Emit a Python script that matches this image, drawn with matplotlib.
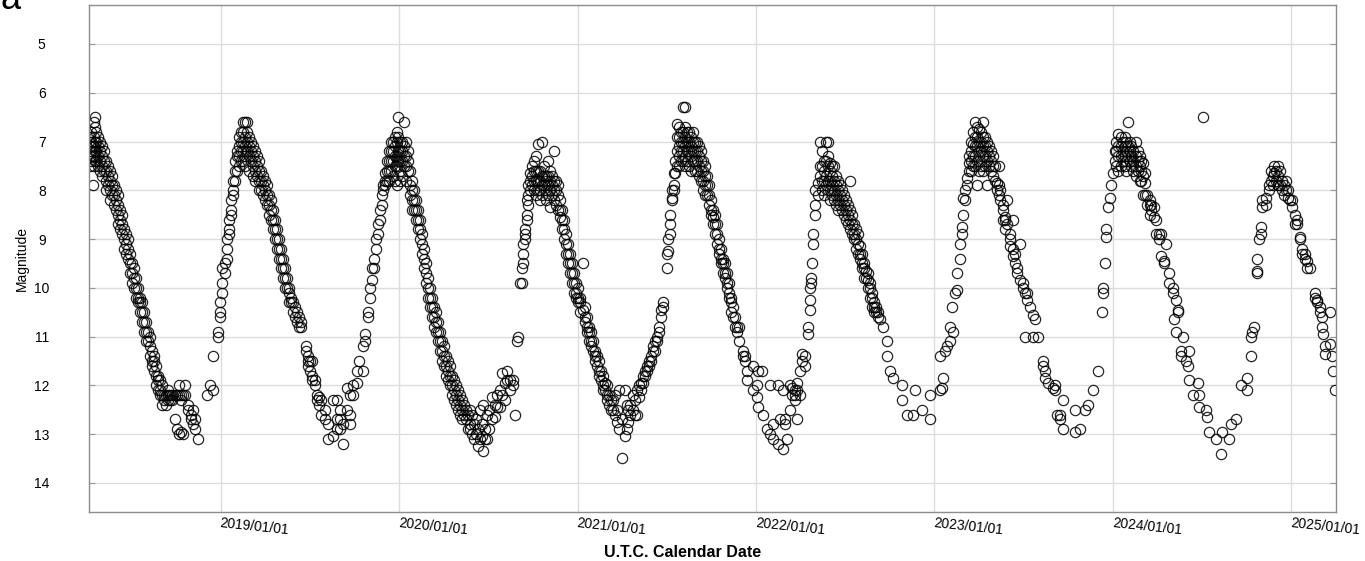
#!/usr/bin/env python3
"""
Light curve of a long-period variable: visual magnitude against date.
Observations are kept as (decimal year, [magnitudes on that date]) per cycle.
"""

import matplotlib
matplotlib.use("Agg")
import matplotlib.pyplot as plt

plt.rcParams['font.family'] = ['Liberation Sans', 'DejaVu Sans']

# ---- observations, one list per light cycle -------------------------------
cycle_2018 = [
    (2018.268, [6.9, 7.1, 7.3, 7.5]), (2018.276, [6.8, 7.0, 7.2, 7.4]),
    (2018.282, [7.1, 7.3, 7.9]), (2018.290, [6.6, 6.9, 7.1, 7.3, 7.5]),
    (2018.296, [6.5, 6.7, 7.0, 7.2, 7.4]), (2018.304, [6.8, 7.0, 7.2, 7.4]),
    (2018.313, [6.9, 7.1, 7.3, 7.5]), (2018.324, [7.0, 7.2, 7.4, 7.6]),
    (2018.335, [7.1, 7.3, 7.5, 7.7]), (2018.346, [7.2, 7.4, 7.6]),
    (2018.357, [7.4, 7.6, 7.8, 8.0]), (2018.368, [7.5, 7.7, 7.9]),
    (2018.380, [7.6, 7.8, 8.0, 8.2]), (2018.391, [7.7, 7.9, 8.1]),
    (2018.402, [7.9, 8.1, 8.3]), (2018.413, [8.0, 8.2, 8.4]),
    (2018.425, [8.1, 8.3, 8.5, 8.7]), (2018.436, [8.4, 8.6, 8.8]),
    (2018.447, [8.5, 8.7, 8.9]), (2018.458, [8.8, 9.0, 9.2]),
    (2018.470, [8.9, 9.1, 9.3]), (2018.481, [9.0, 9.2, 9.4]),
    (2018.492, [9.3, 9.5, 9.7]), (2018.503, [9.5, 9.7, 9.9]),
    (2018.514, [9.6, 9.8, 10.0]), (2018.525, [9.8, 10.0, 10.2]),
    (2018.537, [10.0, 10.2, 10.3]), (2018.548, [10.2, 10.3, 10.5]),
    (2018.559, [10.3, 10.5, 10.7]), (2018.570, [10.5, 10.7, 10.9]),
    (2018.582, [10.7, 10.9, 11.1]), (2018.593, [10.9, 11.1]),
    (2018.604, [11.0, 11.2, 11.4]), (2018.615, [11.3, 11.5, 11.6]),
    (2018.626, [11.4, 11.5, 11.7]), (2018.638, [11.6, 11.8, 12.0]),
    (2018.649, [11.8, 11.9, 12.1]), (2018.660, [11.9, 12.1, 12.2]),
    (2018.671, [12.0, 12.2, 12.4]), (2018.682, [12.2, 12.3]),
    (2018.693, [12.2, 12.4]), (2018.705, [12.1, 12.2, 12.3]),
    (2018.716, [12.2, 12.3]), (2018.727, [12.2, 12.3]),
    (2018.744, [12.2, 12.7]), (2018.755, [12.2, 12.9]),
    (2018.766, [12.0, 12.2, 13.0]), (2018.778, [12.2, 12.3, 12.95]),
    (2018.789, [12.2, 13.0]), (2018.800, [12.0, 12.2]),
    (2018.817, [12.4, 12.5]), (2018.834, [12.6, 12.7]),
    (2018.845, [12.5, 12.8]), (2018.856, [12.7, 12.9]),
    (2018.873, [13.1]),
]

cycle_2019 = [
    (2018.923, [12.2]), (2018.940, [12.0]), (2018.957, [12.1, 11.4]),
    (2018.985, [10.9, 11.0]), (2018.996, [10.5, 10.6, 10.3]),
    (2019.007, [9.9, 10.1, 9.6]), (2019.024, [9.5, 9.7]),
    (2019.035, [9.0, 9.2, 9.4]), (2019.046, [8.6, 8.8, 8.9]),
    (2019.058, [8.2, 8.4, 8.5]), (2019.069, [7.8, 8.0, 8.1]),
    (2019.080, [7.4, 7.6, 7.8]), (2019.091, [7.2, 7.3, 7.6]),
    (2019.102, [6.9, 7.1, 7.3, 7.5]), (2019.113, [6.8, 7.0, 7.2, 7.4]),
    (2019.125, [6.6, 6.8, 7.0, 7.2, 7.4]), (2019.136, [6.6, 6.9, 7.1, 7.3, 7.5]),
    (2019.147, [6.6, 6.8, 7.0, 7.2]), (2019.158, [6.9, 7.1, 7.3, 7.6]),
    (2019.170, [7.0, 7.2, 7.4]), (2019.181, [7.1, 7.3, 7.5, 7.7]),
    (2019.192, [7.2, 7.4, 7.6, 7.8]), (2019.203, [7.3, 7.5, 7.7]),
    (2019.214, [7.4, 7.6, 7.8, 8.0]), (2019.226, [7.6, 7.8, 8.0]),
    (2019.237, [7.7, 7.9, 8.1]), (2019.248, [7.8, 8.0, 8.2]),
    (2019.259, [7.9, 8.1, 8.3]), (2019.270, [8.1, 8.3, 8.5]),
    (2019.282, [8.2, 8.4, 8.6]), (2019.293, [8.4, 8.6, 8.8]),
    (2019.304, [8.6, 8.8, 9.0]), (2019.315, [8.8, 9.0, 9.2]),
    (2019.326, [9.0, 9.2, 9.4]), (2019.338, [9.2, 9.4, 9.6]),
    (2019.349, [9.4, 9.6, 9.8]), (2019.360, [9.6, 9.8, 10.0]),
    (2019.371, [9.8, 10.0]), (2019.382, [10.0, 10.1, 10.3]),
    (2019.394, [10.2, 10.3]), (2019.405, [10.3, 10.5]),
    (2019.416, [10.4, 10.6]), (2019.427, [10.5, 10.7]),
    (2019.438, [10.6, 10.8]), (2019.450, [10.7, 10.8]),
    (2019.478, [11.2, 11.3]), (2019.489, [11.5, 11.4, 11.6]),
    (2019.500, [11.5, 11.7]), (2019.511, [11.5, 11.9, 11.8]),
    (2019.528, [12.0, 11.9]), (2019.539, [12.2, 12.3]),
    (2019.550, [12.25, 12.4]), (2019.562, [12.3, 12.6]),
    (2019.584, [12.5, 12.7]), (2019.601, [13.1, 12.8]),
    (2019.629, [13.05, 12.3]), (2019.651, [12.3, 12.7, 12.9]),
    (2019.668, [12.9, 12.7, 12.5]), (2019.685, [13.2, 12.8]),
    (2019.708, [12.05, 12.5]), (2019.724, [12.6, 12.2, 12.8]),
    (2019.741, [12.2, 12.0]), (2019.764, [11.95, 11.7]),
    (2019.775, [11.5]), (2019.797, [11.7, 11.2]),
    (2019.808, [10.95, 11.1]), (2019.825, [10.5, 10.6]),
    (2019.836, [10.2, 10.0]), (2019.848, [9.85, 9.6]),
]

cycle_2020 = [
    (2019.859, [9.4, 9.6]), (2019.870, [9.0, 9.2]), (2019.881, [8.9, 8.7]),
    (2019.892, [8.6, 8.4]), (2019.904, [8.1, 8.3]), (2019.909, [7.9, 8.0]),
    (2019.920, [7.65, 7.8, 7.9]), (2019.931, [7.4, 7.6, 7.8]),
    (2019.943, [7.2, 7.4, 7.6, 7.8]), (2019.954, [7.0, 7.2, 7.4, 7.6]),
    (2019.965, [7.0, 7.2, 7.4, 7.7]), (2019.976, [6.9, 7.1, 7.3, 7.5, 7.8]),
    (2019.988, [6.8, 7.0, 7.3, 7.5, 7.9]), (2019.993, [6.5, 6.9, 7.2, 7.4]),
    (2020.004, [7.0, 7.2, 7.4, 7.6, 7.8]), (2020.016, [7.0, 7.2, 7.4, 7.7]),
    (2020.027, [6.6, 7.1, 7.3, 7.5]), (2020.038, [7.0, 7.3, 7.5, 7.8]),
    (2020.049, [7.2, 7.4, 7.6]), (2020.060, [7.6, 7.9, 8.1]),
    (2020.072, [7.8, 8.0, 8.2, 8.4]), (2020.083, [8.0, 8.2, 8.4]),
    (2020.094, [8.2, 8.4, 8.6]), (2020.105, [8.4, 8.6, 8.8]),
    (2020.116, [8.6, 8.8, 9.0]), (2020.128, [8.9, 9.1, 9.3]),
    (2020.139, [9.2, 9.4, 9.6]), (2020.150, [9.5, 9.7, 9.9]),
    (2020.161, [9.8, 10.0, 10.2]), (2020.172, [10.0, 10.2, 10.4]),
    (2020.184, [10.2, 10.4, 10.6]), (2020.195, [10.4, 10.6, 10.8]),
    (2020.206, [10.5, 10.7, 10.9]), (2020.217, [10.7, 10.9, 11.1]),
    (2020.228, [10.9, 11.1, 11.3]), (2020.240, [11.1, 11.3, 11.5]),
    (2020.251, [11.2, 11.4, 11.6]), (2020.262, [11.4, 11.6, 11.8]),
    (2020.273, [11.5, 11.7, 11.9]), (2020.284, [11.6, 11.8, 12.0]),
    (2020.296, [11.8, 12.0, 12.2]), (2020.307, [11.9, 12.1, 12.3]),
    (2020.318, [12.0, 12.2, 12.4]), (2020.329, [12.1, 12.3, 12.5]),
    (2020.340, [12.2, 12.4, 12.6]), (2020.352, [12.3, 12.5, 12.7]),
    (2020.363, [12.4, 12.6]), (2020.374, [12.5, 12.7]),
    (2020.385, [12.6, 12.9]), (2020.396, [12.8, 12.9, 12.5]),
    (2020.408, [13.0, 12.6]), (2020.419, [13.1, 12.8]),
    (2020.430, [13.0, 12.7]), (2020.441, [13.25, 12.9]),
    (2020.452, [13.1, 12.5]), (2020.464, [13.05, 12.8]),
    (2020.469, [13.35, 12.4]), (2020.480, [13.1, 12.9]),
    (2020.492, [13.1, 12.6]), (2020.503, [12.9, 12.5]),
    (2020.520, [12.7, 12.25]), (2020.536, [12.65, 12.4]),
    (2020.548, [12.2, 12.45]), (2020.565, [12.45, 12.1]),
    (2020.576, [11.75, 12.2]), (2020.593, [11.95, 12.3]),
    (2020.604, [11.9, 11.7]), (2020.621, [11.9, 12.1]),
    (2020.637, [11.9, 12.0]), (2020.649, [12.6]),
    (2020.660, [11.1]), (2020.666, [11.0]),
]

cycle_2020b = [
    (2020.677, [9.9]), (2020.688, [9.6, 9.9]), (2020.694, [9.3, 9.5, 9.1]),
    (2020.705, [8.8, 8.9, 9.0]), (2020.716, [8.5, 8.6, 8.2]),
    (2020.722, [8.1, 8.3, 7.9]), (2020.733, [7.65, 7.8, 8.0]),
    (2020.744, [7.5, 7.7, 7.9]), (2020.755, [7.4, 7.6, 7.8, 8.0]),
    (2020.766, [7.3, 7.6, 7.8, 8.1]), (2020.778, [7.05, 7.6, 7.8, 8.0]),
    (2020.789, [7.6, 7.8, 8.0, 8.2]), (2020.800, [7.0, 7.7, 7.9, 8.1]),
    (2020.811, [7.5, 7.7, 7.9]), (2020.822, [7.7, 7.8, 8.0, 8.2]),
    (2020.834, [7.4, 7.7, 7.9, 8.1]), (2020.845, [7.6, 7.8, 8.0, 8.35]),
    (2020.856, [7.7, 7.9, 8.1]), (2020.867, [7.2, 7.8, 8.0, 8.2]),
    (2020.878, [7.8, 8.0, 8.3]), (2020.890, [7.9, 8.1, 8.4]),
    (2020.901, [8.2, 8.4, 8.55]), (2020.912, [8.4, 8.6, 8.8]),
    (2020.923, [8.6, 8.8, 9.0]), (2020.935, [8.9, 9.1, 9.3]),
    (2020.946, [9.1, 9.3, 9.5]), (2020.957, [9.3, 9.5, 9.7]),
    (2020.968, [9.5, 9.7, 9.9]), (2020.979, [9.7, 9.9, 10.1]),
    (2020.990, [9.9, 10.1, 10.2]), (2021.002, [10.0, 10.2, 10.3]),
    (2021.013, [10.2, 10.3, 10.5]), (2021.030, [10.45, 9.5]),
    (2021.041, [10.4, 10.6, 10.7]), (2021.052, [10.6, 10.8, 10.9]),
    (2021.063, [10.8, 10.9, 11.1]), (2021.075, [10.9, 11.1, 11.2]),
    (2021.086, [11.1, 11.3]), (2021.097, [11.3, 11.4, 11.5]),
    (2021.108, [11.4, 11.6]), (2021.119, [11.5, 11.7, 11.8]),
    (2021.130, [11.7, 11.9]), (2021.142, [11.8, 12.0, 12.1]),
    (2021.153, [11.95, 12.1]), (2021.164, [12.0, 12.2, 12.3]),
    (2021.175, [12.2, 12.4]), (2021.187, [12.3, 12.5]),
    (2021.198, [12.5, 12.3]), (2021.209, [12.6, 12.2]),
    (2021.220, [12.75, 12.5]), (2021.231, [12.9, 12.1]),
    (2021.248, [13.5, 12.7]), (2021.265, [13.05, 12.1]),
    (2021.276, [12.9, 12.4]), (2021.282, [12.75, 12.5]),
    (2021.293, [12.4, 12.6]), (2021.310, [12.5, 12.2]),
    (2021.321, [12.6, 12.3]), (2021.332, [12.6, 12.1]),
    (2021.343, [12.25, 12.0]), (2021.354, [12.1, 11.95]),
    (2021.366, [11.95, 11.8]), (2021.377, [11.8, 11.7]),
    (2021.388, [11.7, 11.6]), (2021.399, [11.5, 11.6]),
    (2021.410, [11.4, 11.5]), (2021.422, [11.3, 11.2]),
    (2021.433, [11.1, 11.3]), (2021.444, [11.0, 11.1]),
    (2021.455, [10.8, 10.9]), (2021.466, [10.6, 10.45]),
    (2021.478, [10.3, 10.4]),
]

cycle_2021 = [
    (2021.500, [9.6, 9.3]), (2021.506, [9.0, 9.25]), (2021.517, [8.9, 8.5, 8.7]),
    (2021.528, [8.2, 8.0, 8.15]), (2021.539, [7.65, 7.9, 8.0]),
    (2021.545, [7.4, 7.65]), (2021.556, [6.65, 6.9, 7.2, 7.5]),
    (2021.567, [6.7, 6.9, 7.1, 7.3, 7.5]), (2021.578, [6.8, 7.0, 7.2, 7.4]),
    (2021.590, [6.3, 6.8, 7.0, 7.2, 7.4]), (2021.601, [6.3, 6.7, 6.9, 7.1, 7.3, 7.5]),
    (2021.612, [6.8, 7.0, 7.2, 7.4]), (2021.623, [6.8, 7.0, 7.2, 7.5]),
    (2021.635, [6.9, 7.1, 7.3, 7.6]), (2021.646, [6.8, 7.0, 7.2, 7.4]),
    (2021.657, [7.0, 7.2, 7.4, 7.6]), (2021.668, [7.0, 7.2, 7.4, 7.6]),
    (2021.679, [7.1, 7.3, 7.5, 7.7]), (2021.690, [7.2, 7.4, 7.6, 7.8]),
    (2021.702, [7.4, 7.6, 7.8, 8.0]), (2021.713, [7.5, 7.7, 7.9, 8.1]),
    (2021.724, [7.7, 7.9, 8.1]), (2021.735, [7.9, 8.1, 8.3]),
    (2021.746, [8.2, 8.4, 8.5]), (2021.758, [8.4, 8.55, 8.7]),
    (2021.769, [8.5, 8.7, 8.9]), (2021.780, [8.7, 8.9, 9.1]),
    (2021.791, [9.0, 9.2, 9.3]), (2021.803, [9.2, 9.4, 9.5]),
    (2021.814, [9.4, 9.5, 9.7]), (2021.825, [9.5, 9.7, 9.8]),
    (2021.836, [9.7, 9.9, 10.0]), (2021.847, [9.9, 10.1, 10.2]),
    (2021.858, [10.2, 10.3, 10.5]), (2021.870, [10.4, 10.6]),
    (2021.881, [10.6, 10.8]), (2021.892, [10.9, 10.8]),
    (2021.903, [11.1, 10.8]), (2021.926, [11.3, 11.4]),
    (2021.937, [11.4, 11.5]), (2021.948, [11.7, 11.9]),
    (2021.982, [11.6, 12.1]), (2022.004, [12.25, 12.0]),
    (2022.010, [12.45, 11.7]), (2022.032, [11.7]),
    (2022.038, [12.6]), (2022.060, [12.9]),
    (2022.077, [13.0, 12.0]), (2022.094, [13.1, 12.8]),
    (2022.122, [13.2, 12.0]), (2022.133, [12.7]),
    (2022.150, [13.3, 12.1]), (2022.161, [12.7, 12.8]),
    (2022.172, [13.1]), (2022.189, [12.5, 12.0]),
    (2022.200, [12.05, 12.2]), (2022.217, [12.1, 12.2, 12.3]),
    (2022.228, [12.1, 12.7, 11.95]), (2022.245, [11.7, 12.2]),
    (2022.256, [11.5, 11.35]), (2022.273, [11.4, 11.6]),
    (2022.290, [10.95, 10.8]), (2022.301, [10.45, 10.25, 10.0]),
    (2022.307, [9.9, 9.8]), (2022.312, [9.5]),
    (2022.318, [9.1, 8.9]), (2022.329, [8.5, 8.3, 8.0]),
    (2022.346, [7.85, 8.1]), (2022.357, [7.7, 7.5, 7.0]),
]

cycle_2022 = [
    (2022.368, [7.2, 7.5, 7.8, 8.0]), (2022.380, [7.4, 7.6, 7.8, 8.1]),
    (2022.391, [7.0, 7.4, 7.7, 7.9]), (2022.402, [7.0, 7.3, 7.5, 7.8, 8.0]),
    (2022.413, [7.45, 7.6, 7.8, 8.0, 8.2]), (2022.424, [7.5, 7.7, 7.9, 8.1]),
    (2022.436, [7.5, 7.8, 8.0, 8.2]), (2022.447, [7.7, 7.9, 8.1, 8.3]),
    (2022.458, [7.8, 8.0, 8.2, 8.4]), (2022.469, [7.9, 8.1, 8.3]),
    (2022.480, [8.0, 8.2, 8.4]), (2022.492, [8.1, 8.3, 8.5]),
    (2022.503, [8.2, 8.4, 8.6]), (2022.514, [8.3, 8.5, 8.7]),
    (2022.525, [7.8, 8.4, 8.6, 8.8]), (2022.536, [8.5, 8.7, 8.9]),
    (2022.548, [8.7, 8.9, 9.0]), (2022.559, [8.8, 9.0, 9.2]),
    (2022.570, [8.9, 9.1, 9.3]), (2022.581, [9.15, 9.3, 9.4]),
    (2022.592, [9.3, 9.5, 9.6]), (2022.604, [9.5, 9.6, 9.8]),
    (2022.615, [9.65, 9.8]), (2022.626, [9.7, 9.85, 10.0]),
    (2022.637, [9.9, 10.0, 10.2]), (2022.648, [10.1, 10.2, 10.4]),
    (2022.660, [10.3, 10.4, 10.5]), (2022.671, [10.5, 10.4]),
    (2022.682, [10.5, 10.6]), (2022.693, [10.65]),
    (2022.710, [10.8]), (2022.732, [11.1, 11.4]),
    (2022.749, [11.7]), (2022.766, [11.85]),
    (2022.816, [12.0, 12.3]), (2022.844, [12.6]),
    (2022.878, [12.6]), (2022.889, [12.1]),
    (2022.928, [12.5]), (2022.973, [12.7, 12.2]),
]

cycle_2023 = [
    (2023.029, [11.4, 12.1]), (2023.040, [12.05]), (2023.046, [11.85]),
    (2023.057, [11.3]), (2023.068, [11.2]), (2023.085, [11.1, 10.8]),
    (2023.096, [10.4]), (2023.102, [10.9]), (2023.113, [10.1]),
    (2023.124, [9.7, 10.05]), (2023.141, [9.4, 9.1]),
    (2023.152, [8.9, 8.75]), (2023.158, [8.5, 8.15]),
    (2023.169, [8.0, 8.2]), (2023.180, [7.75, 7.9]),
    (2023.191, [7.45, 7.6, 7.3]), (2023.203, [7.0, 7.2, 7.4, 7.6]),
    (2023.214, [6.8, 7.05, 7.3, 7.5]), (2023.225, [6.6, 6.9, 7.1, 7.3, 7.5]),
    (2023.236, [6.7, 6.9, 7.1, 7.4, 7.9]), (2023.248, [6.75, 7.0, 7.2, 7.4, 7.6]),
    (2023.259, [6.8, 7.0, 7.2, 7.5]), (2023.270, [6.6, 6.9, 7.1, 7.3, 7.6]),
    (2023.281, [6.9, 7.1, 7.3, 7.5]), (2023.292, [7.0, 7.2, 7.4, 7.9]),
    (2023.303, [7.1, 7.3, 7.5]), (2023.315, [7.2, 7.4, 7.6]),
    (2023.326, [7.3, 7.5, 7.7]), (2023.337, [7.5, 7.8]),
    (2023.348, [7.85, 8.0]), (2023.359, [7.5, 7.9, 8.1]),
    (2023.365, [8.2, 8.0]), (2023.382, [8.4, 8.3, 8.6]),
    (2023.393, [8.55, 8.6, 8.8]), (2023.404, [8.2, 8.7]),
    (2023.421, [9.15, 8.9, 9.0]), (2023.438, [9.35, 8.6, 9.2]),
    (2023.449, [9.5, 9.3]), (2023.460, [9.7, 9.6]),
    (2023.477, [9.85, 9.1]), (2023.494, [10.0, 9.9]),
    (2023.505, [11.0, 10.1]), (2023.516, [10.1, 10.25]),
    (2023.533, [10.4]), (2023.550, [10.55, 11.0]),
    (2023.561, [10.65]), (2023.578, [11.0]),
    (2023.606, [11.5, 11.6]), (2023.617, [11.85, 11.7]),
    (2023.634, [11.95]), (2023.662, [12.05]),
    (2023.673, [12.1, 12.0]), (2023.684, [12.6]),
    (2023.701, [12.7, 12.6]), (2023.718, [12.3, 12.9]),
    (2023.785, [12.95, 12.5]), (2023.813, [12.9]),
    (2023.841, [12.5]), (2023.858, [12.4]),
    (2023.886, [12.1]), (2023.914, [11.7]),
]

cycle_2024 = [
    (2023.936, [10.5]), (2023.942, [10.1, 10.0]), (2023.953, [9.5]),
    (2023.964, [8.95, 8.8]), (2023.970, [8.35]), (2023.981, [8.15]),
    (2023.992, [7.9]), (2023.998, [7.65]), (2024.009, [7.2, 7.4]),
    (2024.020, [7.0, 7.2, 7.5]), (2024.031, [6.85, 7.1, 7.3, 7.6]),
    (2024.043, [6.9, 7.1, 7.3, 7.5]), (2024.054, [7.0, 7.2, 7.4]),
    (2024.065, [6.9, 7.1, 7.3, 7.5]), (2024.076, [7.0, 7.2, 7.4, 7.6]),
    (2024.082, [6.6, 7.1, 7.3]), (2024.093, [7.0, 7.2, 7.4]),
    (2024.104, [7.1, 7.3, 7.5]), (2024.115, [7.2, 7.4, 7.6]),
    (2024.127, [7.0, 7.3, 7.5, 7.7]), (2024.138, [7.2, 7.4, 7.6]),
    (2024.149, [7.3, 7.5, 7.8]), (2024.160, [7.4, 7.6, 7.8]),
    (2024.171, [7.45, 7.7, 8.1]), (2024.182, [7.65, 7.85, 8.1]),
    (2024.193, [8.1, 8.3]), (2024.205, [8.2, 8.3, 8.5]),
    (2024.216, [8.3, 8.4]), (2024.233, [8.35, 8.55]),
    (2024.244, [8.9, 8.6]), (2024.261, [8.9, 9.0]),
    (2024.272, [9.35, 8.9]), (2024.289, [9.45, 9.5]),
    (2024.300, [9.1]), (2024.317, [9.7, 9.9]),
    (2024.334, [10.0, 10.1]), (2024.345, [10.65]),
    (2024.356, [10.25, 10.9]), (2024.362, [10.45, 10.5]),
    (2024.384, [11.3, 11.4]), (2024.390, [11.0]),
    (2024.412, [11.5]), (2024.418, [11.6]),
    (2024.429, [11.3, 11.9]), (2024.446, [12.2]),
    (2024.474, [11.95]), (2024.485, [12.2, 12.45]),
    (2024.502, [6.5]), (2024.524, [12.5]),
    (2024.530, [12.65]), (2024.541, [12.95]),
    (2024.580, [13.1]), (2024.608, [13.4]),
    (2024.614, [12.95]), (2024.653, [13.1]),
    (2024.664, [12.8]), (2024.692, [12.7]),
]

cycle_2025 = [
    (2024.720, [12.0]), (2024.754, [12.1, 11.85]), (2024.776, [11.4, 11.0]),
    (2024.782, [10.9]), (2024.793, [10.8]), (2024.810, [9.7, 9.65, 9.4]),
    (2024.821, [9.0]), (2024.832, [8.9, 8.75]), (2024.838, [8.35, 8.2]),
    (2024.860, [8.15, 8.3]), (2024.877, [7.9, 8.0]), (2024.888, [7.6, 7.8]),
    (2024.899, [7.7, 7.9]), (2024.905, [7.5, 7.65]), (2024.916, [7.8, 7.6]),
    (2024.927, [7.5, 7.7, 7.9]), (2024.938, [7.6, 7.9]),
    (2024.950, [7.8, 8.0]), (2024.961, [7.9, 8.1]),
    (2024.972, [7.8, 8.0]), (2024.983, [8.0, 8.15]),
    (2024.994, [8.2]), (2025.006, [8.35, 8.2]),
    (2025.018, [8.5, 8.7]), (2025.029, [8.7, 8.6]),
    (2025.046, [8.95, 9.0]), (2025.057, [9.2, 9.3]),
    (2025.074, [9.3, 9.4]), (2025.085, [9.45, 9.6]),
    (2025.102, [9.6]), (2025.130, [10.1, 10.2]),
    (2025.141, [10.25, 10.3]), (2025.158, [10.4, 10.5]),
    (2025.169, [10.6, 10.8]), (2025.175, [10.95]),
    (2025.186, [11.35, 11.2]), (2025.214, [11.15, 10.5]),
    (2025.225, [11.4]), (2025.231, [11.7]),
    (2025.242, [12.1]),
]

year_ticks = [2019, 2020, 2021, 2022, 2023, 2024, 2025]
year_labels = [f"{y}/01/01" for y in year_ticks]
mag_ticks = [5, 6, 7, 8, 9, 10, 11, 12, 13, 14]


def flatten(cycles):
    """Turn (date, [mags]) groups into two flat lists."""
    dates, mags = [], []
    for cycle in cycles:
        for date, values in cycle:
            for m in values:
                dates.append(date)
                mags.append(m)
    return dates, mags


def main():
    dates, mags = flatten([cycle_2018, cycle_2019, cycle_2020, cycle_2020b,
                           cycle_2021, cycle_2022, cycle_2023, cycle_2024,
                           cycle_2025])

    fig = plt.figure(figsize=(13.65, 5.61), dpi=100)
    ax = fig.add_axes([0.0652, 0.0873, 0.9138, 0.9038])

    ax.plot(dates, mags, linestyle='none', marker='o', markersize=7.4,
            markerfacecolor='none', markeredgecolor='black',
            markeredgewidth=0.9, alpha=0.85)

    ax.set_xlim(2018.262, 2025.252)
    ax.set_ylim(14.6, 4.2)

    ax.set_yticks(mag_ticks)
    ax.set_xticks(year_ticks)
    ax.set_xticklabels(year_labels, rotation=-6, ha='left', va='top',
                       rotation_mode='anchor')
    ax.tick_params(axis='x', length=0, labelsize=10, pad=3)
    ax.tick_params(axis='y', direction='in', length=4, color='#999999',
                   right=True, labelsize=10, pad=34)
    for lbl in ax.get_yticklabels():
        lbl.set_horizontalalignment('center')

    ax.grid(True, color='#dcdcdc', linewidth=1.0)
    ax.set_axisbelow(True)
    for spine in ax.spines.values():
        spine.set_color('#8c8c8c')
        spine.set_linewidth(1.0)

    ax.set_ylabel('Magnitude', fontsize=10, labelpad=4)
    ax.set_xlabel('U.T.C. Calendar Date', fontsize=11.5, fontweight='bold',
                  labelpad=4)
    # the axis title sits under the middle of the figure, not of the axes
    ax.xaxis.set_label_coords(0.4755, -0.066)

    fig.text(0.0, 1 - 9 / 561, 'a', fontsize=26, va='baseline', ha='left')

    fig.savefig('out.png', dpi=100)
    plt.close(fig)


if __name__ == "__main__":
    main()
